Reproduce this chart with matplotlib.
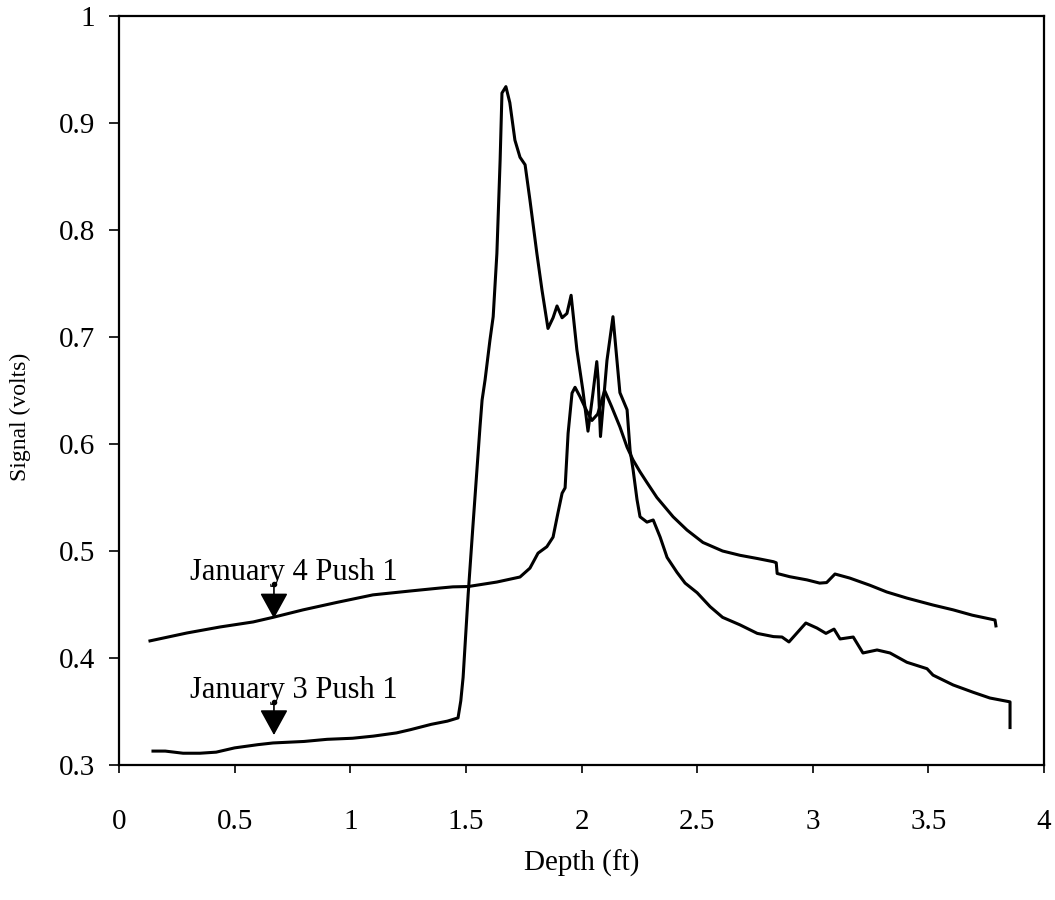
import matplotlib
matplotlib.use("Agg")
import matplotlib.pyplot as plt
from matplotlib.ticker import FuncFormatter, MultipleLocator

plt.rcParams["font.family"] = ["Liberation Serif", "DejaVu Serif"]

# Jan 4 push 1 (upper start)
jan4_depth = [0.134, 0.294, 0.437, 0.58, 0.666, 0.796, 0.943, 1.098, 1.258, 1.388,
              1.444, 1.51, 1.634, 1.734, 1.777, 1.812, 1.85, 1.877, 1.898, 1.916,
              1.929, 1.942, 1.959, 1.972, 1.994, 2.02, 2.045, 2.07, 2.10, 2.13,
              2.166, 2.197, 2.223, 2.253, 2.283, 2.326, 2.396, 2.456, 2.525, 2.61,
              2.685, 2.76, 2.83, 2.842, 2.846, 2.90, 2.975, 3.03, 3.06, 3.096,
              3.16, 3.247, 3.32, 3.407, 3.52, 3.607, 3.69, 3.788, 3.792]
jan4_signal = [0.416, 0.4234, 0.429, 0.4337, 0.438, 0.445, 0.452, 0.459, 0.4626, 0.4654,
               0.4665, 0.4668, 0.471, 0.4757, 0.484, 0.498, 0.504, 0.513, 0.5355, 0.554,
               0.559, 0.61, 0.6476, 0.653, 0.644, 0.632, 0.622, 0.628, 0.65, 0.635,
               0.616, 0.597, 0.585, 0.574, 0.564, 0.55, 0.532, 0.5196, 0.508, 0.5,
               0.496, 0.493, 0.49, 0.489, 0.479, 0.476, 0.473, 0.47, 0.4705, 0.4785,
               0.4747, 0.468, 0.4617, 0.456, 0.4495, 0.445, 0.44, 0.4355, 0.43]

# Jan 3 push 1 (lower start, big peak)
jan3_depth = [0.147, 0.2, 0.277, 0.35, 0.42, 0.5, 0.6, 0.666, 0.8, 0.9,
              1.01, 1.1, 1.2, 1.26, 1.35, 1.42, 1.466, 1.478, 1.488, 1.51,
              1.53, 1.561, 1.57, 1.583, 1.604, 1.618, 1.634, 1.648, 1.656, 1.673,
              1.69, 1.712, 1.734, 1.756, 1.777, 1.807, 1.829, 1.855, 1.877, 1.894,
              1.916, 1.937, 1.955, 1.98, 2.006, 2.028, 2.048, 2.066, 2.072, 2.082,
              2.11, 2.136, 2.166, 2.197, 2.21, 2.223, 2.24, 2.253, 2.283, 2.31,
              2.34, 2.37, 2.413, 2.448, 2.5, 2.556, 2.61, 2.685, 2.76, 2.83,
              2.867, 2.897, 2.93, 2.97, 3.018, 3.057, 3.092, 3.118, 3.175, 3.217,
              3.278, 3.334, 3.407, 3.494, 3.52, 3.607, 3.693, 3.766, 3.853, 3.853]
jan3_signal = [0.313, 0.313, 0.311, 0.311, 0.312, 0.316, 0.319, 0.3206, 0.322, 0.324,
               0.325, 0.327, 0.330, 0.333, 0.338, 0.341, 0.344, 0.36, 0.382, 0.46,
               0.522, 0.616, 0.641, 0.66, 0.697, 0.719, 0.778, 0.865, 0.928, 0.934,
               0.919, 0.884, 0.868, 0.861, 0.828, 0.778, 0.744, 0.708, 0.718, 0.729,
               0.718, 0.722, 0.739, 0.688, 0.65, 0.612, 0.645, 0.677, 0.66, 0.607,
               0.678, 0.719, 0.648, 0.632, 0.594, 0.576, 0.548, 0.532, 0.527, 0.529,
               0.513, 0.494, 0.48, 0.47, 0.461, 0.448, 0.438, 0.431, 0.423, 0.42,
               0.4196, 0.415, 0.423, 0.4327, 0.428, 0.423, 0.427, 0.4178, 0.4196, 0.4047,
               0.4075, 0.4047, 0.396, 0.39, 0.384, 0.3748, 0.368, 0.3626, 0.359, 0.335]

# labels with arrows: (text, arrow x, arrow tail y, arrow tip y)
labels = [("January 4 Push 1", 0.67, 0.469, 0.437),
          ("January 3 Push 1", 0.67, 0.359, 0.328)]

fig = plt.figure(figsize=(10.55, 9), dpi=100)
ax = fig.add_axes([0.1128, 0.15, 0.8768, 0.8322])

ax.plot(jan4_depth, jan4_signal, color="black", lw=2.2)
ax.plot(jan3_depth, jan3_signal, color="black", lw=2.2)

for txt, xa, ytail, ytip in labels:
    ax.annotate("", xy=(xa, ytip), xytext=(xa, ytail),
                arrowprops=dict(arrowstyle="-|>,head_length=1,head_width=0.55",
                                mutation_scale=16, color="black", lw=1.2,
                                shrinkA=0, shrinkB=0))
    ax.plot([xa], [ytail], marker="o", ms=3, color="black")
    # text sits a bit right of the arrow, baseline just above the tail dot
    ax.text(xa + 0.087, ytail + 0.004, txt, ha="center", va="baseline", fontsize=22)

ax.set_xlim(0, 4)
ax.set_ylim(0.3, 1)
ax.xaxis.set_major_locator(MultipleLocator(0.5))
ax.yaxis.set_major_locator(MultipleLocator(0.1))
fmt = FuncFormatter(lambda v, p: "%g" % round(v, 2))
ax.xaxis.set_major_formatter(fmt)
ax.yaxis.set_major_formatter(fmt)

ax.tick_params(axis="x", direction="out", length=6, width=1.2, pad=26, labelsize=21)
ax.tick_params(axis="y", direction="out", length=7, width=1.2, pad=10, labelsize=21)
for s in ax.spines.values():
    s.set_linewidth(1.6)

ax.set_xlabel("Depth (ft)", fontsize=21, labelpad=10)
ax.set_ylabel("Signal (volts)", fontsize=17)
ax.yaxis.set_label_coords(-0.095, 0.465)

fig.savefig("out.png", dpi=100)
